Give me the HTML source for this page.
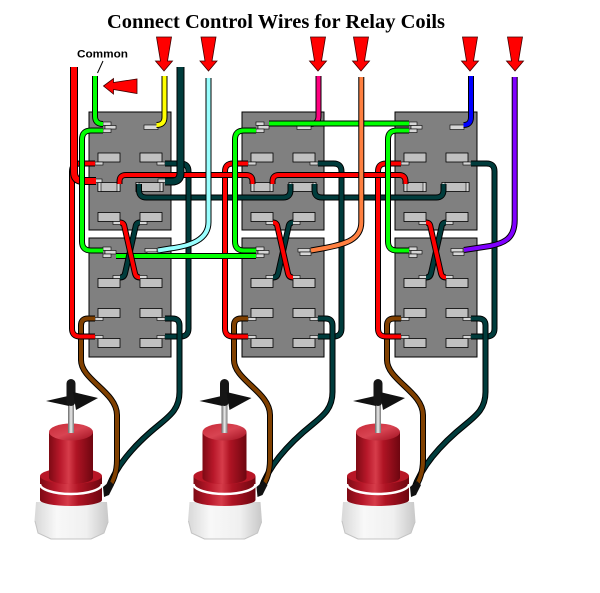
<!DOCTYPE html>
<html><head><meta charset="utf-8"><style>
html,body{margin:0;padding:0;background:#fff;width:600px;height:593px;overflow:hidden}
svg{display:block}
.b{fill:#808080;stroke:#000;stroke-width:1}
.t{fill:#c0c0c0;stroke:#000;stroke-width:.8}
.s{fill:#d6d6d6;stroke:#000;stroke-width:.6}
.o{fill:none;stroke:#000;stroke-width:6}
.w{fill:none;stroke-width:4}
.O{fill:none;stroke:#000;stroke-width:8}
.W{fill:none;stroke-width:6}
</style></head><body>
<svg width="600" height="593" viewBox="0 0 600 593" xmlns="http://www.w3.org/2000/svg">
<defs>
<linearGradient id="rg" x1="0" x2="1" y1="0" y2="0">
<stop offset="0" stop-color="#7e0a14"/><stop offset="0.25" stop-color="#b8182a"/><stop offset="0.45" stop-color="#d63c4a"/><stop offset="0.62" stop-color="#b01424"/><stop offset="1" stop-color="#6e0610"/></linearGradient>
<linearGradient id="rt" x1="0" x2="1" y1="0" y2="1">
<stop offset="0" stop-color="#c82a38"/><stop offset="0.5" stop-color="#d84452"/><stop offset="1" stop-color="#a01020"/></linearGradient>
<linearGradient id="bg" x1="0" x2="1" y1="0" y2="0">
<stop offset="0" stop-color="#d8d8d8"/><stop offset="0.3" stop-color="#f8f8f8"/><stop offset="0.7" stop-color="#f0f0f0"/><stop offset="1" stop-color="#c8c8c8"/></linearGradient>
<linearGradient id="sg" x1="0" x2="1" y1="0" y2="0">
<stop offset="0" stop-color="#666"/><stop offset="0.5" stop-color="#eee"/><stop offset="1" stop-color="#777"/></linearGradient>

<g id="ru">
<rect x="0" y="0" width="82" height="118" class="b"/>
<rect x="14" y="10" width="8" height="3.5" class="s"/>
<rect x="16" y="13.5" width="11" height="3.5" class="s"/>
<rect x="14" y="17" width="8" height="3.5" class="s"/>
<rect x="55" y="13" width="14" height="4.5" class="s"/>
<rect x="9" y="41" width="22" height="9" class="t"/>
<rect x="51" y="41" width="22" height="9" class="t"/>
<rect x="6" y="50" width="8" height="3" class="s"/>
<rect x="68" y="50" width="8" height="3" class="s"/>
<rect x="9" y="70.5" width="22" height="9" class="t"/>
<rect x="9" y="70.5" width="3" height="9" class="s"/>
<rect x="28" y="70.5" width="3" height="9" class="s"/>
<rect x="47" y="70.5" width="27" height="9" class="t"/>
<rect x="47" y="70.5" width="3" height="9" class="s"/>
<rect x="71" y="70.5" width="3" height="9" class="s"/>
<rect x="9" y="100.5" width="22" height="9" class="t"/>
<rect x="51" y="100.5" width="22" height="9" class="t"/>
<rect x="24" y="109.5" width="8" height="3" class="s"/>
<rect x="50" y="109.5" width="8" height="3" class="s"/>
</g>
<g id="rl">
<rect x="0" y="0" width="82" height="119" class="b"/>
<rect x="14" y="9" width="8" height="3.5" class="s"/>
<rect x="16" y="12.5" width="11" height="3.5" class="s"/>
<rect x="14" y="16" width="8" height="3.5" class="s"/>
<rect x="56" y="10.5" width="12" height="3.5" class="s"/>
<rect x="58" y="14" width="11" height="3.5" class="s"/>
<rect x="9" y="40.5" width="22" height="9" class="t"/>
<rect x="51" y="40.5" width="22" height="9" class="t"/>
<rect x="24" y="37.5" width="8" height="3" class="s"/>
<rect x="50" y="37.5" width="8" height="3" class="s"/>
<rect x="9" y="70.5" width="22" height="9" class="t"/>
<rect x="51" y="70.5" width="22" height="9" class="t"/>
<rect x="6" y="79.5" width="8" height="3" class="s"/>
<rect x="68" y="79.5" width="8" height="3" class="s"/>
<rect x="9" y="100.5" width="22" height="9" class="t"/>
<rect x="51" y="100.5" width="22" height="9" class="t"/>
<rect x="6" y="97.5" width="8" height="3" class="s"/>
<rect x="68" y="97.5" width="8" height="3" class="s"/>
</g>

<g id="pr">
<path class="o" d="M165,163.5 H180.5 Q188.5,163.5 188.5,171.5 V328.5 Q188.5,336.5 180.5,336.5 H165"/>
<path class="w" stroke="#003c3c" d="M165,163.5 H180.5 Q188.5,163.5 188.5,171.5 V328.5 Q188.5,336.5 180.5,336.5 H165"/>
<path class="o" d="M165,318.5 H172.5 Q179.5,318.5 179.5,325.5 V392 C179.5,408 171,415 160,424 C140,440 117,462 108,489"/>
<path class="w" stroke="#003c3c" d="M165,318.5 H172.5 Q179.5,318.5 179.5,325.5 V392 C179.5,408 171,415 160,424 C140,440 117,462 108,489"/>
<path class="o" d="M95,318.5 H88 Q81,318.5 81,325.5 V360 C81,380 117,392 117,415 V460 C117,472 113,482 109,487"/>
<path class="w" stroke="#804000" d="M95,318.5 H88 Q81,318.5 81,325.5 V360 C81,380 117,392 117,415 V460 C117,472 113,482 109,487"/>
<path class="o" d="M95,163.5 H80 Q72,163.5 72,171.5 V328.5 Q72,336.5 80,336.5 H95"/>
<path class="w" stroke="#ff0000" d="M95,163.5 H80 Q72,163.5 72,171.5 V328.5 Q72,336.5 80,336.5 H95"/>
</g>
<g id="pg">
<path class="o" d="M103,130.5 H91 Q82,130.5 82,139.5 V241.5 Q82,250.5 91,250.5 H103"/>
<path class="w" stroke="#00ff00" d="M103,130.5 H91 Q82,130.5 82,139.5 V241.5 Q82,250.5 91,250.5 H103"/>
</g>
<g id="px">
<path class="o" d="M140,222.5 Q136,222.5 135.5,227 L125,273.5 Q124,277.5 120,277.5"/>
<path class="w" stroke="#003c3c" d="M140,222.5 Q136,222.5 135.5,227 L125,273.5 Q124,277.5 120,277.5"/>
<path class="o" d="M120,222.5 Q124,222.5 124.5,227 L135,273.5 Q136,277.5 140,277.5"/>
<path class="w" stroke="#ff0000" d="M120,222.5 Q124,222.5 124.5,227 L135,273.5 Q136,277.5 140,277.5"/>
</g>

<g id="lt">
<polygon points="-35,502 36,502 37.5,522 33,533 20,539 -20,539 -33,533 -36.5,521" fill="url(#bg)"/>
<path d="M-36,521 L-33,533 L-20,539 L20,539 L33,533 L37,522" fill="none" stroke="#c4c4c4" stroke-width="1"/>
<path d="M-31,476 V500 A31,6 0 0 0 31,500 V476 Z" fill="url(#rg)"/>
<ellipse cx="0" cy="476" rx="31" ry="8" fill="#b81626"/>
<path d="M-31,484 A31,10 0 0 0 31,484" fill="none" stroke="#fff" stroke-width="2.5"/>
<path d="M-22,432 V478 A22,6 0 0 0 22,478 V432 Z" fill="url(#rg)"/>
<ellipse cx="0" cy="432" rx="22" ry="8.5" fill="url(#rt)"/>
<rect x="-3" y="402" width="6" height="31" fill="url(#sg)"/>
<polygon points="-25,401 -3,396 -2,406" fill="#111"/>
<rect x="-4.5" y="379" width="9" height="27" rx="4.5" fill="#161616"/>
<polygon points="2,392 27,398 5,410" fill="#111"/>
<polygon points="32,487 39,481 43,485 38,495 33,497" fill="#111"/>
</g>
<polygon id="ar" points="-7.5,37 7.5,37 3.5,61 8.5,61 0,71 -8.5,61 -3.5,61" fill="#ff0000" stroke="#400000" stroke-width="0.8"/>
</defs>

<rect width="600" height="593" fill="#fff"/>

<text x="107" y="28" font-family="'Liberation Serif', serif" font-weight="bold" font-size="20" textLength="338" lengthAdjust="spacingAndGlyphs" fill="#000">Connect Control Wires for Relay Coils</text>
<text x="77" y="57.3" font-family="'Liberation Sans', sans-serif" font-weight="bold" font-size="11.2" textLength="51" lengthAdjust="spacingAndGlyphs" fill="#000">Common</text>
<line x1="103" y1="61" x2="97.5" y2="73" stroke="#000" stroke-width="1"/>

<use href="#ar" x="164"/>
<use href="#ar" x="208.5"/>
<use href="#ar" x="318"/>
<use href="#ar" x="361"/>
<use href="#ar" x="470"/>
<use href="#ar" x="515"/>
<polygon points="103.5,86 113.5,78.5 113.5,82.5 137,79 137,93.5 113.5,89.5 113.5,94" fill="#ff0000" stroke="#400000" stroke-width="0.8"/>

<!-- relays -->
<use href="#ru" x="89" y="112"/>
<use href="#ru" x="242" y="112"/>
<use href="#ru" x="395" y="112"/>
<rect x="93" y="179" width="9" height="3.5" class="s"/>
<rect x="158" y="179" width="9" height="3.5" class="s"/>
<use href="#rl" x="89" y="238"/>
<use href="#rl" x="242" y="238"/>
<use href="#rl" x="395" y="238"/>

<!-- dark horizontals -->
<path class="o" d="M139,184 V190 Q139,197.5 146.5,197.5 H283 Q290.5,197.5 290.5,190 V184"/>
<path class="w" stroke="#003c3c" d="M139,184 V190 Q139,197.5 146.5,197.5 H283 Q290.5,197.5 290.5,190 V184"/>
<path class="o" d="M314.5,184 V190 Q314.5,197.5 322,197.5 H436 Q443.5,197.5 443.5,190 V184"/>
<path class="w" stroke="#003c3c" d="M314.5,184 V190 Q314.5,197.5 322,197.5 H436 Q443.5,197.5 443.5,190 V184"/>

<!-- per relay wires -->
<use href="#pr"/>
<use href="#pr" x="153"/>
<use href="#pr" x="306"/>

<!-- red horizontals -->
<path class="o" d="M119.5,184 V181.5 Q119.5,175 126,175 H246 Q252.5,175 252.5,181.5 V184"/>
<path class="w" stroke="#ff0000" d="M119.5,184 V181.5 Q119.5,175 126,175 H246 Q252.5,175 252.5,181.5 V184"/>
<path class="o" d="M272.5,184 V181.5 Q272.5,175 279,175 H399 Q405.5,175 405.5,181.5 V184"/>
<path class="w" stroke="#ff0000" d="M272.5,184 V181.5 Q272.5,175 279,175 H399 Q405.5,175 405.5,181.5 V184"/>

<!-- thick red A and dark A -->
<path class="O" d="M74,67 V172 Q74,181 83,181 H96"/>
<path class="W" stroke="#ff0000" d="M74,67 V172 Q74,181 83,181 H96"/>
<path class="O" d="M180.5,67 V173 Q180.5,181.5 172,181.5 H165"/>
<path class="W" stroke="#003c3c" d="M180.5,67 V173 Q180.5,181.5 172,181.5 H165"/>

<!-- pink (under green) -->
<path class="o" d="M318.5,76 V116 Q318.5,124 311,124"/>
<path class="w" stroke="#ff0080" d="M318.5,76 V116 Q318.5,124 311,124"/>

<!-- greens -->
<use href="#pg"/>
<use href="#pg" x="153"/>
<use href="#pg" x="306"/>
<path class="o" d="M116,256 H256"/>
<path class="w" stroke="#00ff00" d="M116,256 H256"/>
<path class="o" d="M269,123.5 H409"/>
<path class="w" stroke="#00ff00" d="M269,123.5 H409"/>

<!-- crossings -->
<use href="#px"/>
<use href="#px" x="153"/>
<use href="#px" x="306"/>

<!-- control wires -->
<path class="o" d="M164.5,76 V117 Q164.5,125 156.5,125"/>
<path class="w" stroke="#ffff00" d="M164.5,76 V117 Q164.5,125 156.5,125"/>
<path class="o" d="M208.5,78 V222 C208.5,240 190,246 170,248.5 L158,250.5"/>
<path class="w" stroke="#99ffff" d="M208.5,78 V222 C208.5,240 190,246 170,248.5 L158,250.5"/>
<path class="o" d="M361.3,77 V222 C361.3,240 345,244 325,248 L311,250.5"/>
<path class="w" stroke="#ff8040" d="M361.3,77 V222 C361.3,240 345,244 325,248 L311,250.5"/>
<path class="o" d="M471,76 V117 Q471,125 463.5,125"/>
<path class="w" stroke="#0000ff" d="M471,76 V117 Q471,125 463.5,125"/>
<path class="o" d="M514.7,77 V220 C514.7,238 505,243 490,246 L464,250"/>
<path class="w" stroke="#8000ff" d="M514.7,77 V220 C514.7,238 505,243 490,246 L464,250"/>
<path class="o" d="M95,76 V116 Q95,124 103,124"/>
<path class="w" stroke="#00ff00" d="M95,76 V116 Q95,124 103,124"/>

<!-- lights -->
<use href="#lt" x="71"/>
<use href="#lt" x="224.5"/>
<use href="#lt" x="378"/>
</svg>
</body></html>
